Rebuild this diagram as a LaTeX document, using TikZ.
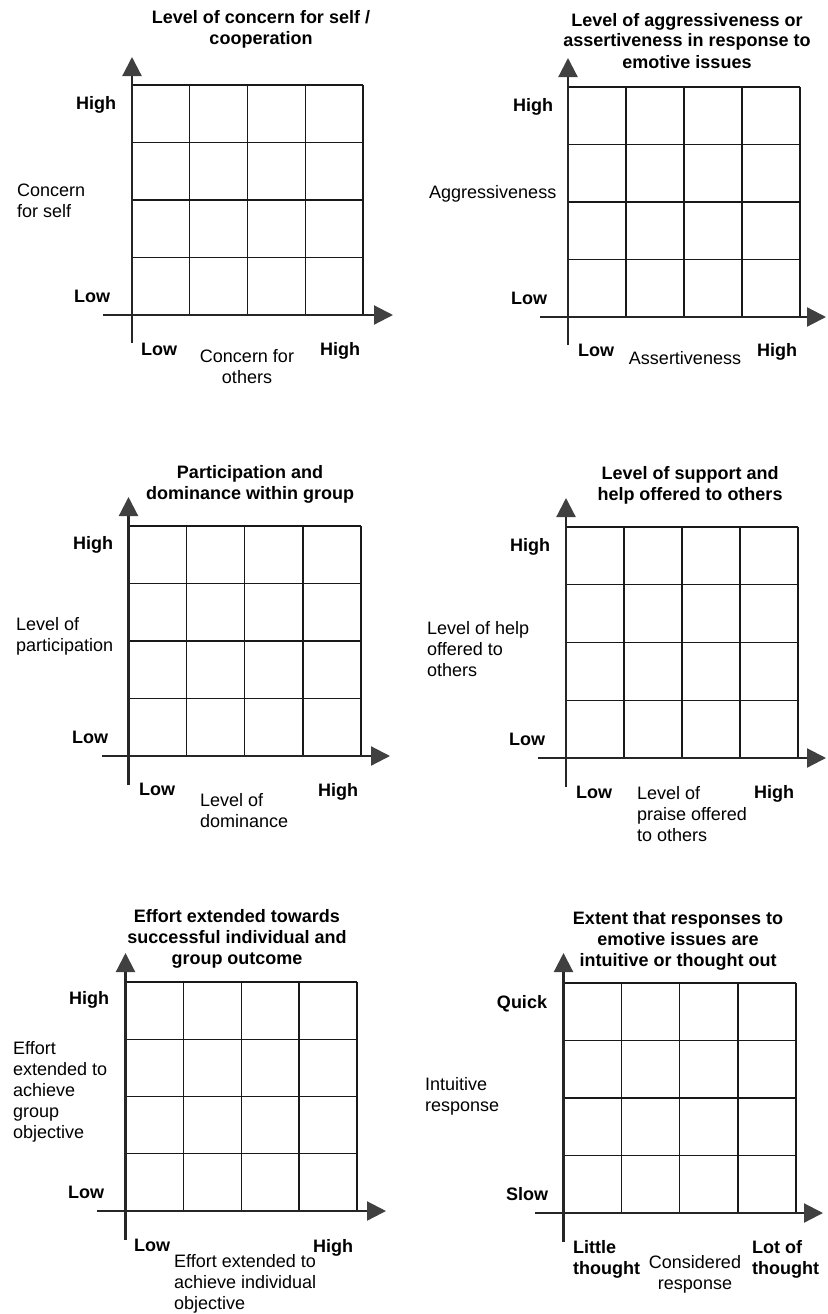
\documentclass[tikz,border=0pt]{standalone}
\usepackage{fontspec}
\setmainfont{Liberation Sans}
\usetikzlibrary{arrows.meta}
\tikzset{
  gridline/.style={line width=1.4pt, black!90},
  axisline/.style={line width=2.2pt, black!85, -{Triangle[length=19pt,width=19pt,color=black!75]}},
  lbl/.style={inner sep=0pt, font=\fontsize{18}{21}\selectfont, anchor=base},
  blbl/.style={lbl, font=\fontsize{18}{21}\selectfont\bfseries},
  ttl/.style={blbl, align=center},
  side/.style={lbl, align=left, anchor=base west},
}
\newcommand\drawquad[9]{%
  \foreach \i in {0,...,4} {
    \draw[gridline] ({#2+(#4-#2)*\i/4},#3) -- ({#2+(#4-#2)*\i/4},#5);
    \draw[gridline] (#2,{#3+(#5-#3)*\i/4}) -- (#4,{#3+(#5-#3)*\i/4});
  }
  \coordinate (#1-vs) at (#2,#7);
  \coordinate (#1-vt) at (#2,#6);
  \coordinate (#1-hs) at (#8,#5);
  \coordinate (#1-ht) at (#9,#5);
  \draw[axisline] (#1-vs) -- (#1-vt);
  \draw[axisline] (#1-hs) -- (#1-ht);
}
\begin{document}
\begin{tikzpicture}[x=1pt,y=-1pt]
\fill[white] (0,0) rectangle (827,1314);
\useasboundingbox (0,0) rectangle (827,1314);

% Panel 1
\drawquad{pa}{132}{85}{363}{315}{57}{343}{103}{393}
\node[ttl] (pa-title) at (261,45) {Level of concern for self /\\cooperation};
\node[blbl] (pa-yhigh) at (96,109) {High};
\node[blbl] (pa-ylow) at (92,302) {Low};
\node[side] (pa-ylab) at (17,217) {Concern\\for self};
\node[blbl] (pa-xlow) at (159,355) {Low};
\node[lbl, align=center] (pa-xlab) at (247,383) {Concern for\\others};
\node[blbl] (pa-xhigh) at (340,355) {High};

% Panel 2
\drawquad{pb}{568}{87}{800}{317}{58}{345}{540}{826}
\node[ttl] (pb-title) at (687,68) {Level of aggressiveness or\\assertiveness in response to\\emotive issues};
\node[blbl] (pb-yhigh) at (533,111) {High};
\node[blbl] (pb-ylow) at (529,304) {Low};
\node[side] (pb-ylab) at (429,198) {Aggressiveness};
\node[blbl] (pb-xlow) at (596,356) {Low};
\node[lbl] (pb-xlab) at (685,364) {Assertiveness};
\node[blbl] (pb-xhigh) at (777,356) {High};

% Panel 3
\drawquad{pc}{128.5}{526}{361}{756}{497}{785}{102}{390}
\node[ttl] (pc-title) at (250,499) {Participation and\\dominance within group};
\node[blbl] (pc-yhigh) at (93,549) {High};
\node[blbl] (pc-ylow) at (90,743) {Low};
\node[side] (pc-ylab) at (16,651) {Level of\\participation};
\node[blbl] (pc-xlow) at (157,795) {Low};
\node[side] (pc-xlab) at (200,827) {Level of\\dominance};
\node[blbl] (pc-xhigh) at (338,796) {High};

% Panel 4
\drawquad{pd}{566}{527}{798}{758}{498}{787}{538}{826}
\node[ttl] (pd-title) at (690,500) {Level of support and\\help offered to others};
\node[blbl] (pd-yhigh) at (530,551) {High};
\node[blbl] (pd-ylow) at (527,745) {Low};
\node[side] (pd-ylab) at (427,676) {Level of help\\offered to\\others};
\node[blbl] (pd-xlow) at (594,798) {Low};
\node[side] (pd-xlab) at (637,841) {Level of\\praise offered\\to others};
\node[blbl] (pd-xhigh) at (774,798) {High};

% Panel 5
\drawquad{pe}{125.5}{982}{357}{1211}{953}{1240}{97}{386}
\node[ttl] (pe-title) at (237,964) {Effort extended towards\\successful individual and\\group outcome};
\node[blbl] (pe-yhigh) at (89,1004) {High};
\node[blbl] (pe-ylow) at (86,1198) {Low};
\node[side] (pe-ylab) at (13,1138) {Effort\\extended to\\achieve\\group\\objective};
\node[blbl] (pe-xlow) at (152,1251) {Low};
\node[blbl] (pe-xhigh) at (333,1252) {High};
\node[side] (pe-xlab) at (174,1309) {Effort extended to\\achieve individual\\objective};

% Panel 6
\drawquad{pf}{563.5}{983}{796}{1213}{953}{1242}{535}{823}
\node[ttl] (pf-title) at (678,966) {Extent that responses to\\emotive issues are\\intuitive or thought out};
\node[blbl] (pf-yhigh) at (522,1008) {Quick};
\node[blbl] (pf-ylow) at (527,1200) {Slow};
\node[side] (pf-ylab) at (425,1111) {Intuitive\\response};
\node[blbl, align=left, anchor=base west] (pf-xlow) at (573,1274) {Little\\thought};
\node[lbl, align=center] (pf-xlab) at (695,1289) {Considered\\response};
\node[blbl, align=left, anchor=base west] (pf-xhigh) at (752,1274) {Lot of\\thought};
\end{tikzpicture}
\end{document}
